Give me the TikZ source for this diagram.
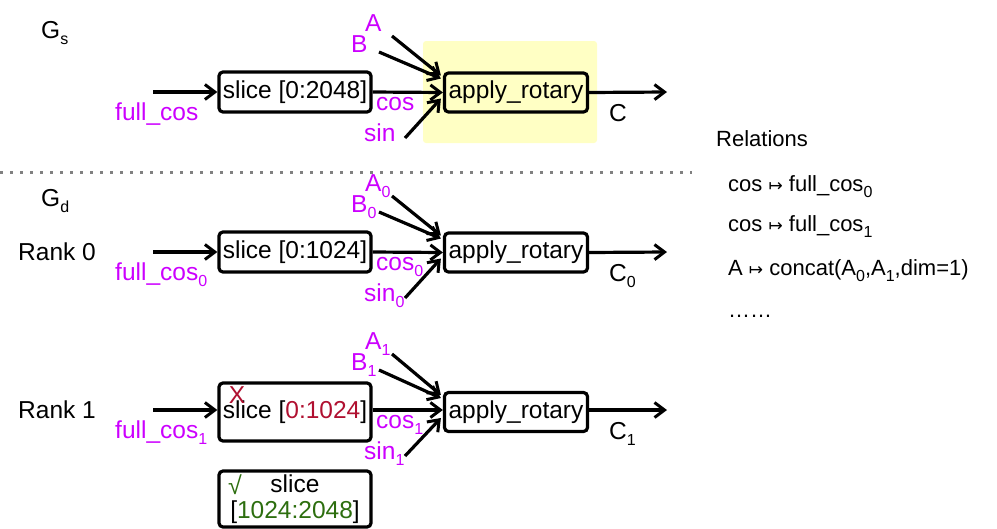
\documentclass[tikz,border=0pt]{standalone}
\usepackage{fontspec}
\setmainfont{Liberation Sans}
\newfontfamily\djv{DejaVu Sans}
\usetikzlibrary{arrows.meta,calc}
\definecolor{mag}{RGB}{204,0,255}
\definecolor{dred}{RGB}{176,16,48}
\definecolor{dgreen}{RGB}{45,110,15}
\definecolor{hl}{RGB}{255,255,196}
\definecolor{dotgray}{RGB}{128,128,128}
\newcommand\sbs[1]{\raisebox{-0.28em}{\fontsize{16}{16}\selectfont #1}}
\newcommand\mapsarr{{\djv\fontsize{17}{17}\selectfont ↦}}
\begin{document}
\begin{tikzpicture}[x=1pt,y=-1pt,font=\fontsize{24.5}{26}\selectfont,
  box/.style={draw,line width=3.2pt,rounded corners=4pt,inner sep=0pt,minimum width=152pt,minimum height=40pt},
  abox/.style={box,minimum width=143pt,minimum height=39pt},
  arr/.style={line width=3.2pt,-{Straight Barb[length=10pt,width=15pt,line width=3pt]}},
  lbl/.style={text=mag,inner sep=0pt,anchor=base west},
  txt/.style={inner sep=0pt,anchor=base west},
  rel/.style={inner sep=0pt,anchor=base west,font=\fontsize{22}{24}\selectfont}]
\useasboundingbox (0,0) rectangle (997,528);
% highlight
\fill[hl,rounded corners=3pt] (423,41) rectangle (597,143);
% separator
\draw[dotgray,line width=3pt,dash pattern=on 3pt off 7pt] (0,172) -- (692,172);

% ---------- G_s ----------
\node[txt] (gs) at (41,38) {G\sbs{s}};
\node[box] (s0) at (295,92) {slice [0:2048]};
\node[abox] (a0) at (516,92.5) {apply\_rotary};
\coordinate (in0) at (153,92);
\coordinate (out0) at (667,92);
\node[lbl] (fc0) at (115,120) {full\_cos};
\node[lbl] (la0) at (365,31) {A};
\node[lbl] (lb0) at (351,52) {B};
\node[lbl] (lc0) at (376,110) {cos};
\node[lbl] (ls0) at (364,141) {sin};
\node[txt] (C0) at (609,121) {C};
\coordinate (sa0) at (392,36);
\coordinate (sb0) at (379,52);
\coordinate (ss0) at (405,138);
\draw[arr] (in0) -- (s0.west);
\draw[arr] (s0.east) -- (a0.west);
\draw[arr] (sa0) -- ([shift={(-2,-17)}]a0.west);
\draw[arr] (sb0) -- ([shift={(-2,-14)}]a0.west);
\draw[arr] (ss0) -- ([shift={(-2,6)}]a0.west);
\draw[arr] (a0.east) -- (out0);

% ---------- Rank 0 ----------
\node[txt] (gd) at (41,206) {G\sbs{d}};
\node[txt] (r0) at (18,260) {Rank 0};
\node[box] (s1) at (295,252) {slice [0:1024]};
\node[abox] (a1) at (516,252.5) {apply\_rotary};
\coordinate (in1) at (153,252);
\coordinate (out1) at (667,252);
\node[lbl] (fc1) at (115,280) {full\_cos\sbs{0}};
\node[lbl] (la1) at (365,191) {A\sbs{0}};
\node[lbl] (lb1) at (351,212) {B\sbs{0}};
\node[lbl] (lc1) at (376,270) {cos\sbs{0}};
\node[lbl] (ls1) at (364,301) {sin\sbs{0}};
\node[txt] (C1) at (609,281) {C\sbs{0}};
\coordinate (sa1) at (392,196);
\coordinate (sb1) at (379,212);
\coordinate (ss1) at (405,298);
\draw[arr] (in1) -- (s1.west);
\draw[arr] (s1.east) -- (a1.west);
\draw[arr] (sa1) -- ([shift={(-2,-17)}]a1.west);
\draw[arr] (sb1) -- ([shift={(-2,-14)}]a1.west);
\draw[arr] (ss1) -- ([shift={(-2,6)}]a1.west);
\draw[arr] (a1.east) -- (out1);

% ---------- Rank 1 ----------
\node[txt] (r1) at (18,418) {Rank 1};
\node[box,minimum height=58pt] (s2) at (295,412) {slice [\textcolor{dred}{0:1024}]};
\node[inner sep=0pt,text=dred] (x2) at (237,395) {X};
\node[abox] (a2) at (516,412) {apply\_rotary};
\coordinate (in2) at (153,410);
\coordinate (out2) at (667,410);
\node[lbl] (fc2) at (115,438) {full\_cos\sbs{1}};
\node[lbl] (la2) at (365,349) {A\sbs{1}};
\node[lbl] (lb2) at (351,370) {B\sbs{1}};
\node[lbl] (lc2) at (376,428) {cos\sbs{1}};
\node[lbl] (ls2) at (364,459) {sin\sbs{1}};
\node[txt] (C2) at (609,439) {C\sbs{1}};
\coordinate (sa2) at (392,354);
\coordinate (sb2) at (379,370);
\coordinate (ss2) at (405,456);
\draw[arr] (in2) -- (in2 -| s2.west);
\draw[arr] (in2 -| s2.east) -- (in2 -| a2.west);
\draw[arr] (sa2) -- ([shift={(-2,-17)}]a2.west);
\draw[arr] (sb2) -- ([shift={(-2,-14)}]a2.west);
\draw[arr] (ss2) -- ([shift={(-2,6)}]a2.west);
\draw[arr] (in2 -| a2.east) -- (out2);
% corrected slice
\node[box,minimum height=56pt,align=center] (s3) at (295,499) {slice\\{}[\textcolor{dgreen}{1024:2048}]};
\node[inner sep=0pt,text=dgreen,font=\fontsize{25}{25}\selectfont] (ok) at (235,485) {√};

% ---------- Relations ----------
\node[rel] (relh) at (716,146) {Relations};
\node[rel] (rel1) at (728,191) {cos \mapsarr{} full\_cos\sbs{0}};
\node[rel] (rel2) at (728,231) {cos \mapsarr{} full\_cos\sbs{1}};
\node[rel] (rel3) at (728,275) {A \mapsarr{} concat(A\sbs{0},A\sbs{1},dim=1)};
\node[rel] (rel4) at (728,317) {……};
\end{tikzpicture}
\end{document}
